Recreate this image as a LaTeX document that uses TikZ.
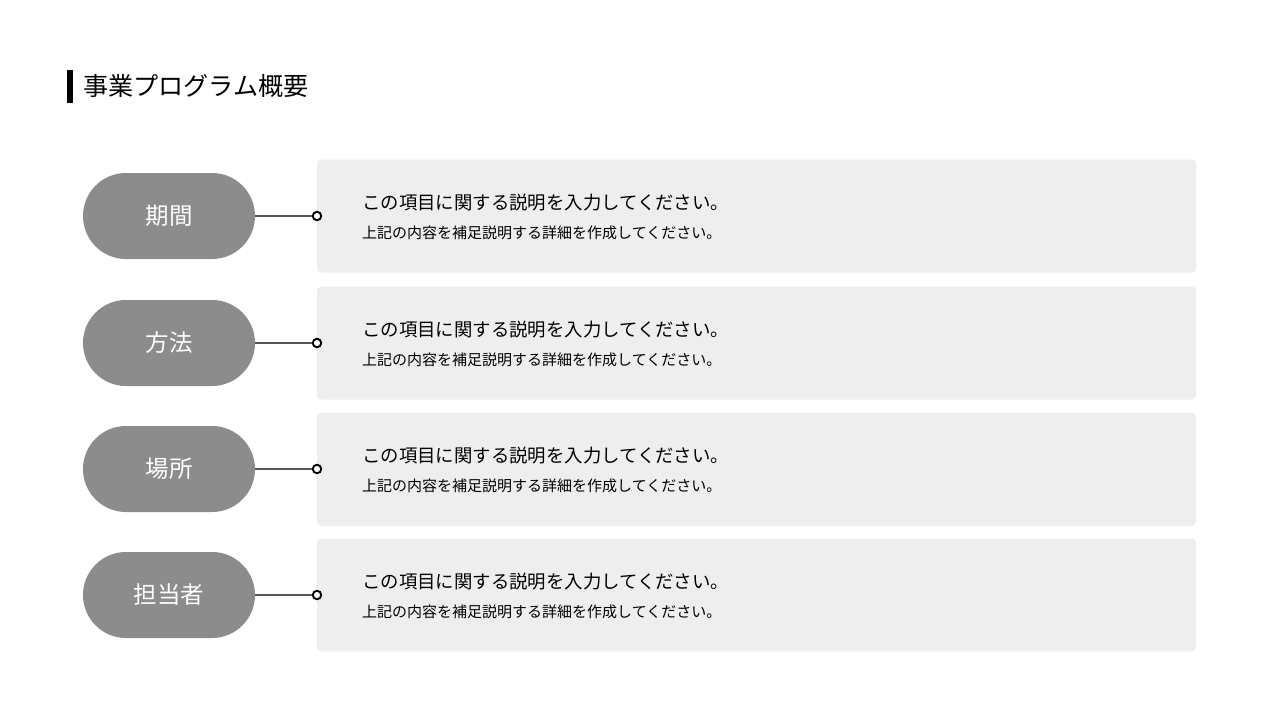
\documentclass[tikz,border=0pt]{standalone}
\usepackage{fontspec}
\setmainfont{Noto Sans CJK JP}
\begin{document}
\begin{tikzpicture}[x=1pt,y=-1pt,
  pill/.style={fill=pillgray, rounded corners=43pt, minimum width=172pt, minimum height=86pt, inner sep=0pt, text=white, font=\fontsize{23.5}{26}\selectfont},
  card/.style={fill=cardgray, rounded corners=4pt, minimum width=879pt, minimum height=113pt, inner sep=0pt},
  link/.style={draw=linegray, line width=1.3pt},
  dot/.style={circle, draw=black, fill=white, line width=1.9pt, minimum size=8.5pt, inner sep=0pt},
  maintext/.style={anchor=west, inner sep=0pt, font=\fontsize{18.4}{21}\selectfont},
  subtext/.style={anchor=west, inner sep=0pt, font=\fontsize{15}{17}\selectfont}
]
\definecolor{pillgray}{HTML}{8C8C8C}
\definecolor{cardgray}{HTML}{EEEEEE}
\definecolor{linegray}{HTML}{555555}
\useasboundingbox (0,0) rectangle (1280,720);
\fill[white] (0,0) rectangle (1280,720);
\fill[black] (67,70) rectangle (73,103);
\node[anchor=west, inner sep=0pt, font=\fontsize{25.1}{28}\selectfont] (title) at (83,86) {事業プログラム概要};
\foreach \i/\yc/\lab in {1/216/期間, 2/343/方法, 3/469/場所, 4/595/担当者} {
  \node[card] (card\i) at (756.5,\yc) {};
  \node[pill] (pill\i) at (169,\yc) {\lab};
  \node[dot] (dot\i) at (317,\yc) {};
  \draw[link] (pill\i.east) -- (dot\i.west);
  \node[maintext] (main\i) at (362,\yc-13) {この項目に関する説明を入力してください。};
  \node[subtext] (sub\i) at (362,\yc+17) {上記の内容を補足説明する詳細を作成してください。};
}
\end{tikzpicture}
\end{document}
